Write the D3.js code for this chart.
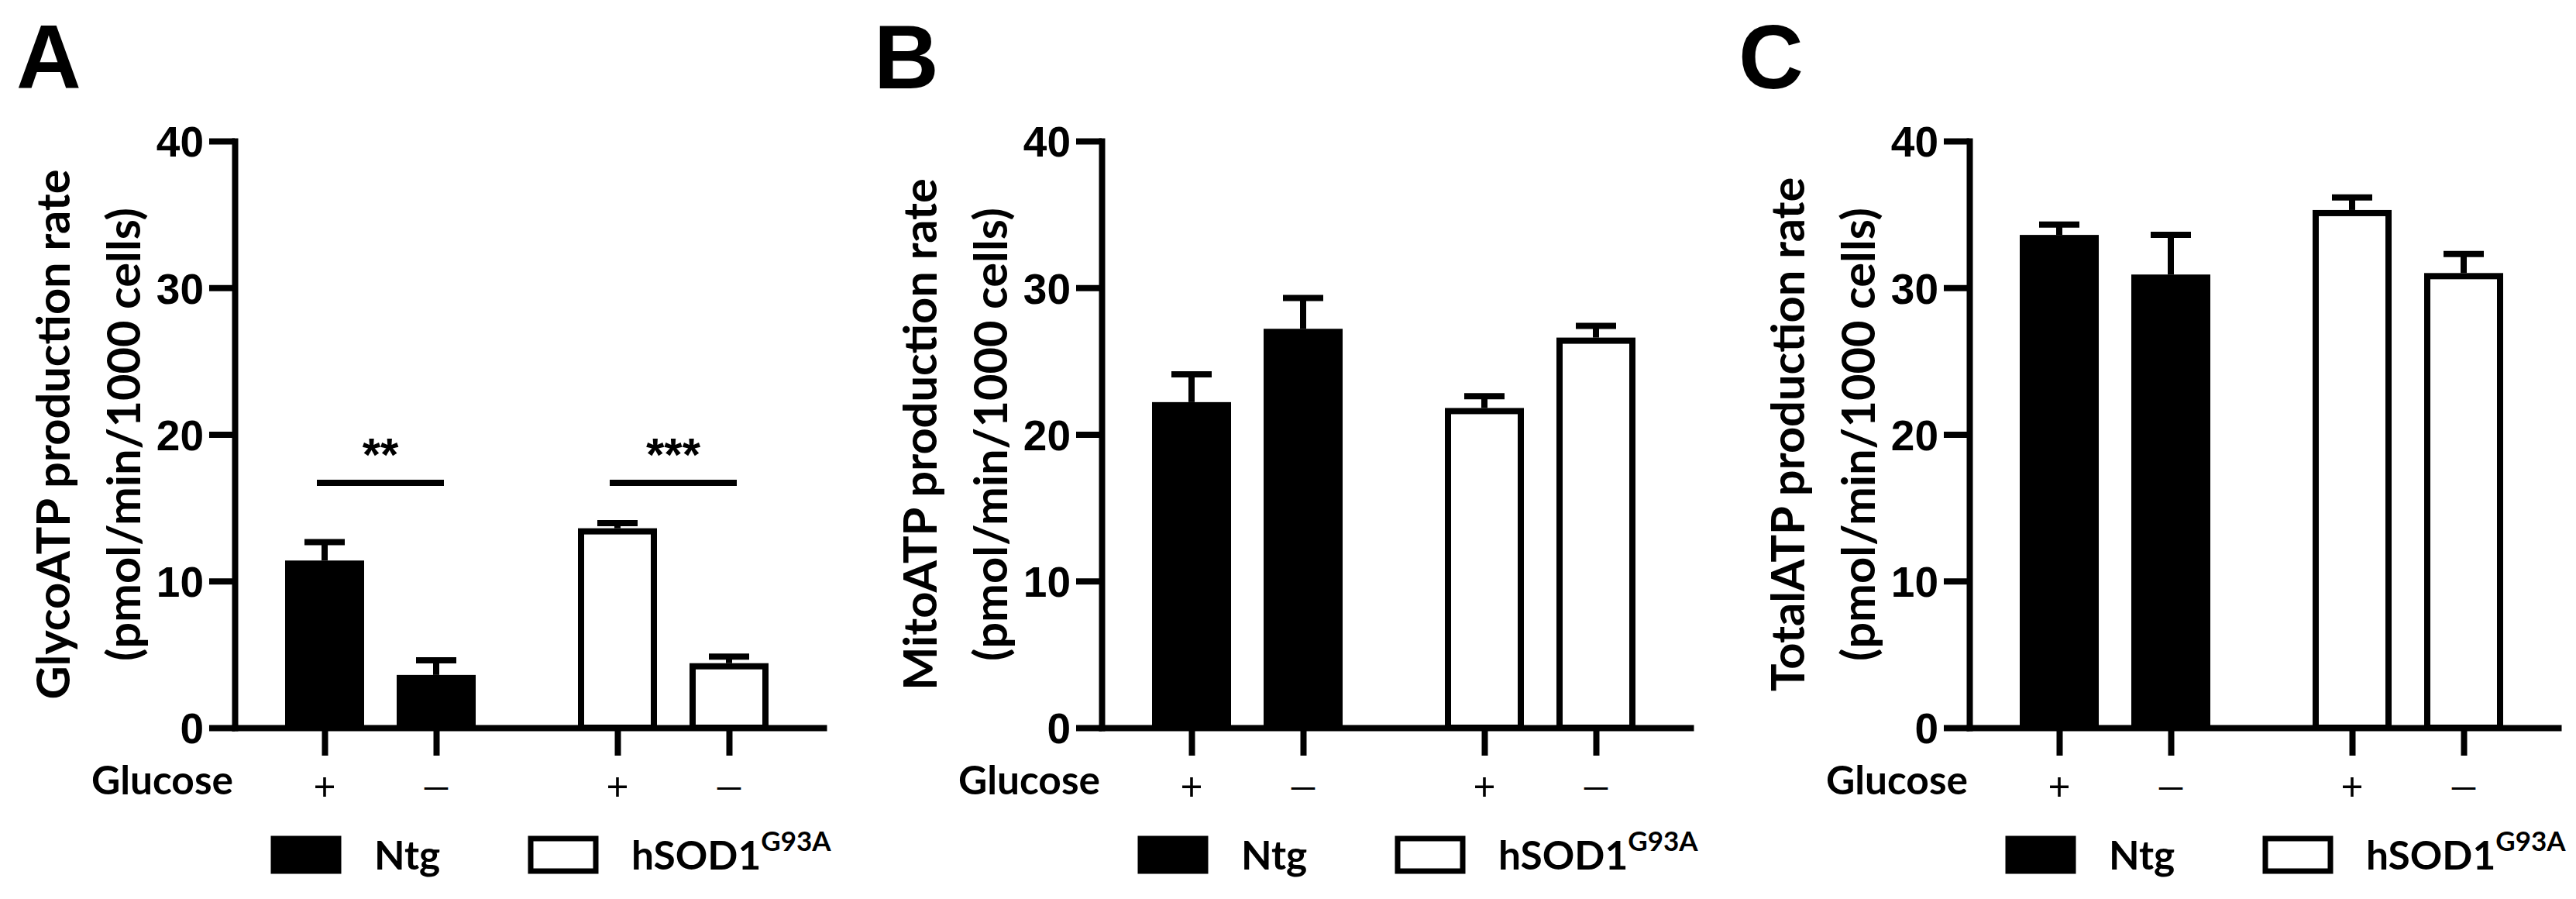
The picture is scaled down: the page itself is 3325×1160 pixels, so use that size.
<!DOCTYPE html>
<html><head><meta charset="utf-8">
<script src="https://cdn.jsdelivr.net/npm/d3@7"></script>
<style>body{margin:0;background:#fff}</style>
</head><body>
<svg id="c" width="3325" height="1160" xmlns="http://www.w3.org/2000/svg"></svg>
<script>
// ---------- data ----------
const panelLetters = ["A", "B", "C"];
const yTitleLine1 = ["GlycoATP production rate", "MitoATP production rate", "TotalATP production rate"];
const yTitleLine2 = "(pmol/min/1000 cells)";
const genotypes = ["Ntg", "hSOD1"];
const genotypeSup = ["", "G93A"];
const glucoseLabels = ["+", "\u2014"];
const yTickValues = [0, 10, 20, 30, 40];
// bar order: Ntg+, Ntg-, hSOD1+, hSOD1-
const glycoMean = [11.4, 3.6, 13.6, 4.4];
const glycoSEM  = [1.25, 1.0, 0.35, 0.45];
const mitoMean  = [22.2, 27.2, 21.8, 26.6];
const mitoSEM   = [1.9, 2.1, 0.8, 0.8];
const totalMean = [33.6, 30.9, 35.3, 31.0];
const totalSEM  = [0.7, 2.7, 0.85, 1.3];
const sigLabels = ["**", "***"];
const sigValue = 16.7;

const panelMeans = [glycoMean, mitoMean, totalMean];
const panelSEMs = [glycoSEM, mitoSEM, totalSEM];

// ---------- layout ----------
const W = 3325, H = 1160;
const axisX = [303, 1422, 2542];
const letterX = [21, 1128, 2244];
const plotW = 760, yTop = 182, yBot = 939;
const groupOffset = 2.625; // slot offset of the second genotype group
const slotOf = (g, c) => g * groupOffset + c;
const slotW = 144, firstSlot = 116;
const SW = 8; // stroke width
const SANS = "'Liberation Sans', Arial, sans-serif";
const HUM = "Lato, 'Open Sans', sans-serif";

const svg = d3.select("#c");
svg.append("rect").attr("width", W).attr("height", H).attr("fill", "#fff");

const y = d3.scaleLinear().domain([0, 40]).range([yBot, yTop]);
const x = d3.scaleLinear()
  .domain([-firstSlot / slotW, (plotW - firstSlot) / slotW])
  .range([0, plotW]);

function fitSize(text, weight, family, target) {
  const t = svg.append("text").attr("font-family", family).attr("font-weight", weight)
    .attr("font-size", 100).text(text);
  const w = t.node().getComputedTextLength();
  t.remove();
  return 100 * target / w;
}
const titleSize = fitSize(yTitleLine2, "bold", HUM, 585);
const glucoseSize = fitSize("Glucose", "bold", HUM, 183);

panelLetters.forEach((letter, p) => {
  const g = svg.append("g").attr("transform", `translate(${axisX[p]},0)`);
  const means = panelMeans[p], sems = panelSEMs[p];
  const bars = [];
  genotypes.forEach((gt, gi) => glucoseLabels.forEach((gl, ci) => {
    const k = gi * 2 + ci;
    bars.push({slot: slotOf(gi, ci), mean: means[k], sem: sems[k], fill: gi === 0 ? "#000" : "#fff"});
  }));

  // panel letter
  svg.append("text").attr("x", letterX[p]).attr("y", 114)
    .attr("font-family", SANS).attr("font-weight", "bold").attr("font-size", 116)
    .attr("fill", "#000").text(letter);

  // error bars
  bars.forEach(b => {
    const cx = x(b.slot);
    g.append("line").attr("x1", cx).attr("x2", cx).attr("y1", y(b.mean)).attr("y2", y(b.mean + b.sem))
      .attr("stroke", "#000").attr("stroke-width", SW);
    g.append("line").attr("x1", cx - 26).attr("x2", cx + 26).attr("y1", y(b.mean + b.sem)).attr("y2", y(b.mean + b.sem))
      .attr("stroke", "#000").attr("stroke-width", SW);
  });
  // bars (outer edge of the outline sits on the value)
  g.selectAll("rect.bar").data(bars).join("rect").attr("class", "bar")
    .attr("x", d => x(d.slot) - 47).attr("width", 94)
    .attr("y", d => y(d.mean) + SW / 2).attr("height", d => y(0) - y(d.mean) - SW / 2)
    .attr("fill", d => d.fill).attr("stroke", "#000").attr("stroke-width", SW);

  // y axis
  const ya = g.append("g").call(d3.axisLeft(y).tickValues(yTickValues).tickSize(33).tickSizeOuter(0).tickPadding(7));
  ya.select(".domain").attr("stroke-width", SW).attr("stroke-linecap", "square");
  ya.selectAll(".tick line").attr("stroke-width", SW);
  ya.selectAll(".tick text").attr("font-family", SANS).attr("font-weight", "bold")
    .attr("font-size", 55).attr("fill", "#000").attr("dy", "0.36em");

  // x axis
  const xa = g.append("g").attr("transform", `translate(0,${yBot})`)
    .call(d3.axisBottom(x).tickValues(bars.map(b => b.slot)).tickSize(36).tickSizeOuter(0).tickFormat(""));
  xa.select(".domain").attr("stroke-width", SW).attr("stroke-linecap", "square");
  xa.selectAll(".tick line").attr("stroke-width", SW);

  // glucose row
  g.append("text").attr("x", -2).attr("y", 1025).attr("text-anchor", "end")
    .attr("font-family", HUM).attr("font-weight", "bold").attr("font-size", glucoseSize).text("Glucose");
  bars.forEach((b, i) => {
    g.append("text").attr("x", x(b.slot)).attr("y", 1013).attr("text-anchor", "middle")
      .attr("dominant-baseline", "central")
      .attr("font-family", HUM).attr("font-weight", "normal")
      .attr("font-size", i % 2 === 0 ? 50 : 46).text(glucoseLabels[i % 2]);
  });

  // y titles
  g.append("text").attr("transform", `translate(-213,${(yTop + yBot) / 2}) rotate(-90)`)
    .attr("text-anchor", "middle").attr("font-family", HUM).attr("font-weight", "bold")
    .attr("font-size", titleSize).text(yTitleLine1[p]);
  g.append("text").attr("transform", `translate(-122,${(yTop + yBot) / 2}) rotate(-90)`)
    .attr("text-anchor", "middle").attr("font-family", HUM).attr("font-weight", "bold")
    .attr("font-size", titleSize).text(yTitleLine2);

  // significance (panel A only)
  if (p === 0) {
    [0, 1].forEach(gi => {
      const x1 = x(slotOf(gi, 0)) - 10, x2 = x(slotOf(gi, 1)) + 10;
      g.append("line").attr("x1", x1).attr("x2", x2).attr("y1", y(sigValue)).attr("y2", y(sigValue))
        .attr("stroke", "#000").attr("stroke-width", SW);
      g.append("text").attr("x", (x1 + x2) / 2).attr("y", y(sigValue) - 16).attr("text-anchor", "middle")
        .attr("font-family", SANS).attr("font-weight", "bold").attr("font-size", 60).text(sigLabels[gi]);
    });
  }

  // legend
  const legBox = [50, 382], legText = [180, 512];
  genotypes.forEach((gt, gi) => {
    g.append("rect").attr("x", legBox[gi]).attr("y", 1082).attr("width", 84).attr("height", 42)
      .attr("fill", gi === 0 ? "#000" : "#fff").attr("stroke", "#000").attr("stroke-width", 7);
    const t = g.append("text").attr("x", legText[gi]).attr("y", 1122)
      .attr("font-family", HUM).attr("font-weight", "bold").attr("font-size", glucoseSize).text(gt);
    if (genotypeSup[gi]) {
      t.append("tspan").attr("font-size", glucoseSize * 0.68).attr("dy", -24).text(genotypeSup[gi]);
    }
  });
});
</script>
</body></html>
